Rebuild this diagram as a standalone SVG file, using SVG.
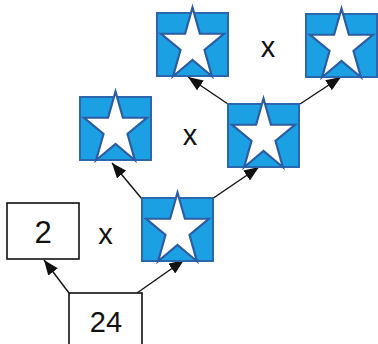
<svg xmlns="http://www.w3.org/2000/svg" xmlns:xlink="http://www.w3.org/1999/xlink" width="378" height="344" viewBox="0 0 378 344">
<style>
.num{font-family:"Liberation Sans",Arial,sans-serif;font-size:29px;fill:#111;text-anchor:middle}
.big{font-size:31px}
.plain{fill:#fff;stroke:#111;stroke-width:1.6}
.box{fill:#1ca0e4;stroke:#2c66ad;stroke-width:2}
.star{fill:#fff;stroke:#2c5ca3;stroke-width:2.2;stroke-linejoin:miter}
.conn{stroke:#111;stroke-width:1.4;fill:none;marker-end:url(#ah)}
</style>
<defs>
<marker id="ah" markerUnits="userSpaceOnUse" markerWidth="16" markerHeight="12" refX="15" refY="6" orient="auto">
<path d="M0,0 L15,6 L0,12 z" fill="#111"/>
</marker>
<g id="starbox">
<rect class="box" x="0" y="0" width="71" height="63"/>
<polygon class="star" points="35.5,-5.5 42.9,20.75 66.9,20.76 47.5,36.99 54.9,63.24 35.5,47.02 16.1,63.24 23.5,36.99 4.1,20.76 28.1,20.75"/>
</g>
</defs>
<g id="connectors">
<line class="conn" x1="69" y1="293" x2="44" y2="260"/>
<line class="conn" x1="137" y1="293" x2="184" y2="260"/>
<line class="conn" x1="142" y1="199" x2="112" y2="163"/>
<line class="conn" x1="212" y1="199" x2="259" y2="167"/>
<line class="conn" x1="228" y1="104" x2="188" y2="77"/>
<line class="conn" x1="300" y1="104" x2="341" y2="77"/>
</g>
<g id="n24"><rect class="plain" x="69" y="293" width="73" height="60"/><text class="num" x="106" y="332">24</text></g>
<g id="n2"><rect class="plain" x="7" y="203" width="72" height="56"/><text class="num big" x="43" y="243">2</text></g>
<g id="s1"><use xlink:href="#starbox" transform="translate(142,198)"/></g>
<g id="s2"><use xlink:href="#starbox" transform="translate(80,97)"/></g>
<g id="s3"><use xlink:href="#starbox" transform="translate(228,104)"/></g>
<g id="s4"><use xlink:href="#starbox" transform="translate(157,13)"/></g>
<g id="s5"><use xlink:href="#starbox" transform="translate(306,14)"/></g>
<g id="ops">
<text class="num" x="105.5" y="244">x</text>
<text class="num" x="190" y="145">x</text>
<text class="num" x="268" y="57">x</text>
</g>
</svg>
